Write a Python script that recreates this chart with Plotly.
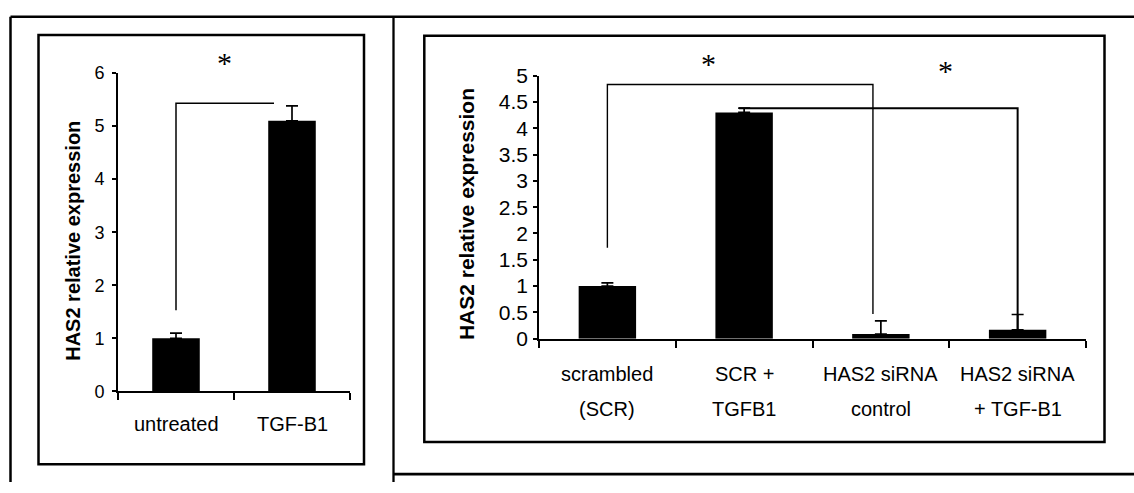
import plotly.graph_objects as go

W, H = 1134, 493

# ---- data -------------------------------------------------------------
left_categories = ["untreated", "TGF-B1"]
left_values = [1.0, 5.1]
left_errors = [0.10, 0.28]

right_label_top = ["scrambled", "SCR +", "HAS2 siRNA", "HAS2 siRNA"]
right_label_bottom = ["(SCR)", "TGFB1", "control", "+ TGF-B1"]
right_values = [1.0, 4.3, 0.09, 0.17]
right_errors = [0.06, 0.08, 0.25, 0.29]

left_yticks = [0, 1, 2, 3, 4, 5, 6]
right_yticks = [0, 0.5, 1, 1.5, 2, 2.5, 3, 3.5, 4, 4.5, 5]
y_title = "HAS2 relative expression"

# significance brackets (x in category index units, y in expression units)
left_bracket_x = [[0, 0, 0.845]]
left_bracket_y = [[1.53, 5.43, 5.43]]
right_bracket_x = [[0, 0, 1.942, 1.942], [0.9625, 3.0, 3.0]]
right_bracket_y = [[1.73, 4.83, 4.83, 0.47], [4.38, 4.38, 0.17]]

# asterisks marking significance (x in category index units, y in expression units)
left_star_x, left_star_y = [0.42], [6.2]
right_star_x, right_star_y = [0.743, 2.469], [5.23, 5.09]

FONT = "Arial, 'Liberation Sans', sans-serif"
SERIF = "'Liberation Serif', 'Times New Roman', serif"


def px_x(p):
    return p / W


def px_y(p):
    return 1 - p / H


# plot-area placement (pixels) and value ranges
LEFT_X = (118, 350)
LEFT_Y = (398, 64)
LEFT_RANGE = (0, 6)
RIGHT_X = (539, 1086)
RIGHT_Y = (342.7, 66.7)
RIGHT_RANGE = (0, 5)


def value_to_paper(v, ydom, yrange):
    lo, hi = px_y(ydom[0]), px_y(ydom[1])
    return lo + (v - yrange[0]) / (yrange[1] - yrange[0]) * (hi - lo)


fig = go.Figure()


def add_bars(values, errors, xa, ya, width):
    n = len(values)
    fig.add_trace(go.Bar(
        x=list(range(n)), y=values, width=width,
        marker=dict(color="black", line=dict(width=0)),
        error_y=dict(type="data", array=errors, arrayminus=[0] * n,
                     symmetric=False, color="black", thickness=1.7, width=6),
        xaxis=xa, yaxis=ya, showlegend=False, hoverinfo="skip",
    ))


def add_brackets(xs, ys, xa, ya, widths):
    for bx, by, w in zip(xs, ys, widths):
        fig.add_trace(go.Scatter(
            x=bx, y=by, mode="lines", line=dict(color="black", width=w),
            xaxis=xa, yaxis=ya, showlegend=False, hoverinfo="skip",
            cliponaxis=False,
        ))


add_bars(left_values, left_errors, "x", "y", 0.41)
add_bars(right_values, right_errors, "x2", "y2", 0.42)
add_brackets(left_bracket_x, left_bracket_y, "x", "y", [1.5])
add_brackets(right_bracket_x, right_bracket_y, "x2", "y2", [1.4, 2.0])

common_x = dict(showticklabels=False, ticks="outside", ticklen=7, tickwidth=1.7,
                tickcolor="black", showline=True, linecolor="black", linewidth=1.8,
                showgrid=False, zeroline=False, fixedrange=True)
common_y = dict(ticks="outside", ticklen=4, tickwidth=1.5, tickcolor="black",
                showline=True, linecolor="black", linewidth=1.6, showgrid=False,
                zeroline=False, fixedrange=True)

n_left = len(left_values)
n_right = len(right_values)

fig.update_layout(
    width=W, height=H,
    margin=dict(l=0, r=0, t=0, b=0),
    paper_bgcolor="white", plot_bgcolor="rgba(0,0,0,0)",
    font=dict(family=FONT, color="black"),
    xaxis=dict(domain=[px_x(LEFT_X[0]), px_x(LEFT_X[1])], range=[-0.5, n_left - 0.5],
               tickvals=[i - 0.5 for i in range(n_left + 1)], anchor="y", **common_x),
    yaxis=dict(domain=[px_y(LEFT_Y[0]), px_y(LEFT_Y[1])], range=list(LEFT_RANGE),
               tickvals=left_yticks, tickfont=dict(size=18, family=FONT),
               ticklabelstandoff=4, anchor="x", **common_y),
    xaxis2=dict(domain=[px_x(RIGHT_X[0]), px_x(RIGHT_X[1])], range=[-0.5, n_right - 0.5],
                tickvals=[i - 0.5 for i in range(n_right + 1)], anchor="y2", **common_x),
    yaxis2=dict(domain=[px_y(RIGHT_Y[0]), px_y(RIGHT_Y[1])], range=list(RIGHT_RANGE),
                tickvals=right_yticks, tickfont=dict(size=21, family=FONT),
                ticklabelstandoff=1, anchor="x2", **common_y),
)

ann = []
# category labels
for i, name in enumerate(left_categories):
    ann.append(dict(x=i, xref="x", y=px_y(432), yref="paper", text=name,
                    showarrow=False, xanchor="center", yanchor="middle",
                    font=dict(size=20, family=FONT)))
for i, (top, bottom) in enumerate(zip(right_label_top, right_label_bottom)):
    ann.append(dict(x=i, xref="x2", y=px_y(380), yref="paper", text=top,
                    showarrow=False, xanchor="center", yanchor="middle",
                    font=dict(size=20, family=FONT)))
    ann.append(dict(x=i, xref="x2", y=px_y(416), yref="paper", text=bottom,
                    showarrow=False, xanchor="center", yanchor="middle",
                    font=dict(size=20, family=FONT)))
# y-axis titles
ann.append(dict(x=px_x(73), xref="paper", y=px_y(240), yref="paper",
                text="<b>" + y_title + "</b>", textangle=-90, showarrow=False,
                xanchor="center", yanchor="middle", font=dict(size=20, family=FONT)))
ann.append(dict(x=px_x(466), xref="paper", y=px_y(212), yref="paper",
                text="<b>" + y_title + "</b>", textangle=-90, showarrow=False,
                xanchor="center", yanchor="middle", font=dict(size=21, family=FONT)))
# significance asterisks (placed above the value range, so positioned on paper)
for sx, sy in zip(left_star_x, left_star_y):
    ann.append(dict(x=sx, xref="x", y=value_to_paper(sy, LEFT_Y, LEFT_RANGE), yref="paper",
                    text="*", showarrow=False, xanchor="center", yanchor="middle",
                    font=dict(size=30, family=SERIF)))
for sx, sy in zip(right_star_x, right_star_y):
    ann.append(dict(x=sx, xref="x2", y=value_to_paper(sy, RIGHT_Y, RIGHT_RANGE), yref="paper",
                    text="*", showarrow=False, xanchor="center", yanchor="middle",
                    font=dict(size=30, family=SERIF)))
fig.update_layout(annotations=ann)

# panel frames
shapes = []


def line(x0, y0, x1, y1, w):
    shapes.append(dict(type="line", xref="paper", yref="paper",
                       x0=px_x(x0), y0=px_y(y0), x1=px_x(x1), y1=px_y(y1),
                       line=dict(color="black", width=w)))


def rect(x0, y0, x1, y1, w):
    shapes.append(dict(type="rect", xref="paper", yref="paper",
                       x0=px_x(x0), y0=px_y(y0), x1=px_x(x1), y1=px_y(y1),
                       line=dict(color="black", width=w), fillcolor="rgba(0,0,0,0)"))


line(10.5, 5, W, 5, 2.5)           # outer top
line(10.5, 5, 10.5, H, 2.5)        # outer left
line(393.5, 5, 393.5, H, 2.3)      # divider
line(393.5, 484.7, W, 484.7, 2.7)  # bottom of right cell
rect(38.5, 24, 364, 474.5, 2.5)    # left chart frame
rect(424.3, 25, 1104.5, 451, 2.5)  # right chart frame
fig.update_layout(shapes=shapes)

fig.write_html("out.html")
